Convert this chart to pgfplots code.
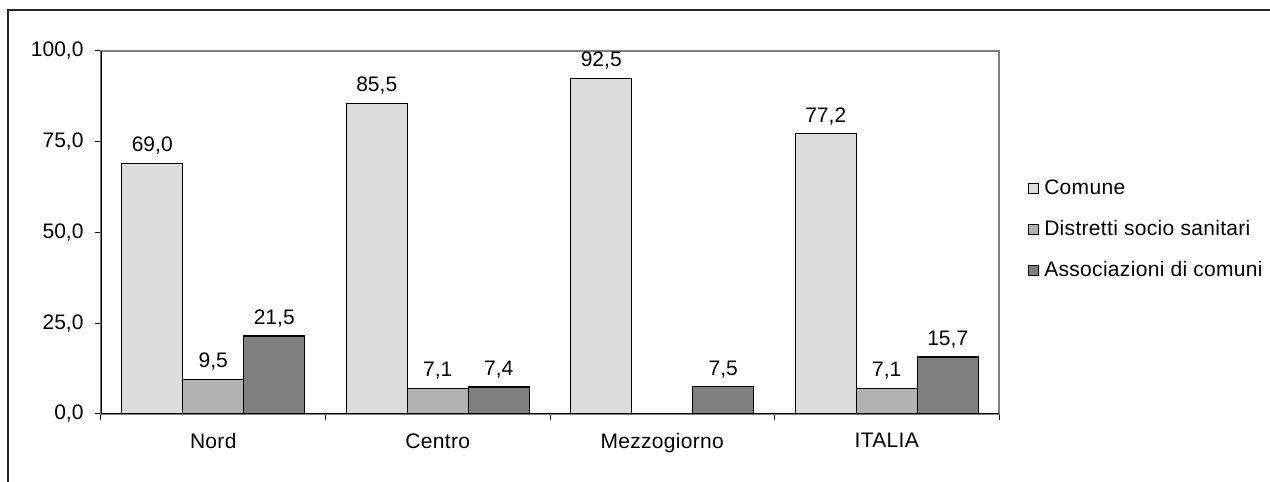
\documentclass[border=0pt]{standalone}
\usepackage{fontspec}
\setmainfont{Liberation Sans}
\newfontfamily\widefont{Liberation Sans}[LetterSpace=1.5]
\usepackage{pgfplots}
\pgfplotsset{compat=1.18}
\definecolor{comune}{RGB}{221,221,221}
\definecolor{distretti}{RGB}{178,178,178}
\definecolor{assoc}{RGB}{128,128,128}
\definecolor{frame}{RGB}{128,128,128}

\begin{document}
\begin{tikzpicture}
\useasboundingbox (0pt,0pt) rectangle (1270pt,482pt);
\draw[line width=1.3pt, black!85] (8pt,0pt) -- (8pt,472pt) -- (1270pt,472pt);
\begin{axis}[
    at={(101pt,68pt)}, anchor=south west,
    scale only axis, width=898pt, height=363pt,
    ybar=0pt, bar width=61pt,
    xmin=-0.5, xmax=3.5, ymin=0, ymax=100,
    xtick={-0.5,0.5,1.5,2.5,3.5}, xticklabels={},
    extra x ticks={0,1,2,3},
    extra x tick labels={Nord,Centro,Mezzogiorno,ITALIA},
    extra x tick style={major tick length=0pt,
      xticklabel style={yshift=-16pt, font=\widefont\fontsize{21}{25}\selectfont}},
    ytick={0,25,50,75,100},
    xtick pos=lower, ytick pos=left,
    yticklabel style={xshift=-8pt},
    tick align=outside, major tick length=6pt,
    tick style={black, line width=1pt},
    axis line style={draw=frame, line width=1.3pt},
    font=\fontsize{21}{25}\selectfont,
    tick label style={font=\fontsize{21}{25}\selectfont},
    /pgf/number format/.cd, fixed, fixed zerofill, precision=1, use comma, 1000 sep={}, assume math mode=true,
    /pgfplots/.cd,
    nodes near coords,
    nodes near coords style={font=\fontsize{21}{25}\selectfont, anchor=south, yshift=5pt,
      /pgf/number format/.cd, fixed, fixed zerofill, precision=1, use comma, assume math mode=true},
    every axis plot/.append style={draw=black, line width=1.3pt},
    legend image code/.code={\draw[#1, line width=1pt] (0pt,-5pt) rectangle (10pt,5pt);},
    legend style={at={(1.029,0.507)}, anchor=west, draw=none, fill=none,
      font=\widefont\fontsize{21}{25}\selectfont, row sep=18pt,
      nodes={text height=15pt, text depth=4pt},
      /tikz/every odd column/.append style={column sep=3pt}},
    legend cell align=left,
]
\addplot[fill=comune] coordinates {(0,69.0) (1,85.5) (2,92.5) (3,77.2)};
\addlegendentry{Comune}
\addplot[fill=distretti] coordinates {(0,9.5) (1,7.1) (3,7.1)};
\addlegendentry{Distretti socio sanitari}
\addplot[fill=assoc] coordinates {(0,21.5) (1,7.4) (2,7.5) (3,15.7)};
\addlegendentry{Associazioni di comuni}
\draw[black, line width=1.3pt] (rel axis cs:0,1) -- (rel axis cs:0,0) -- (rel axis cs:1,0);
\end{axis}
\end{tikzpicture}
\end{document}
